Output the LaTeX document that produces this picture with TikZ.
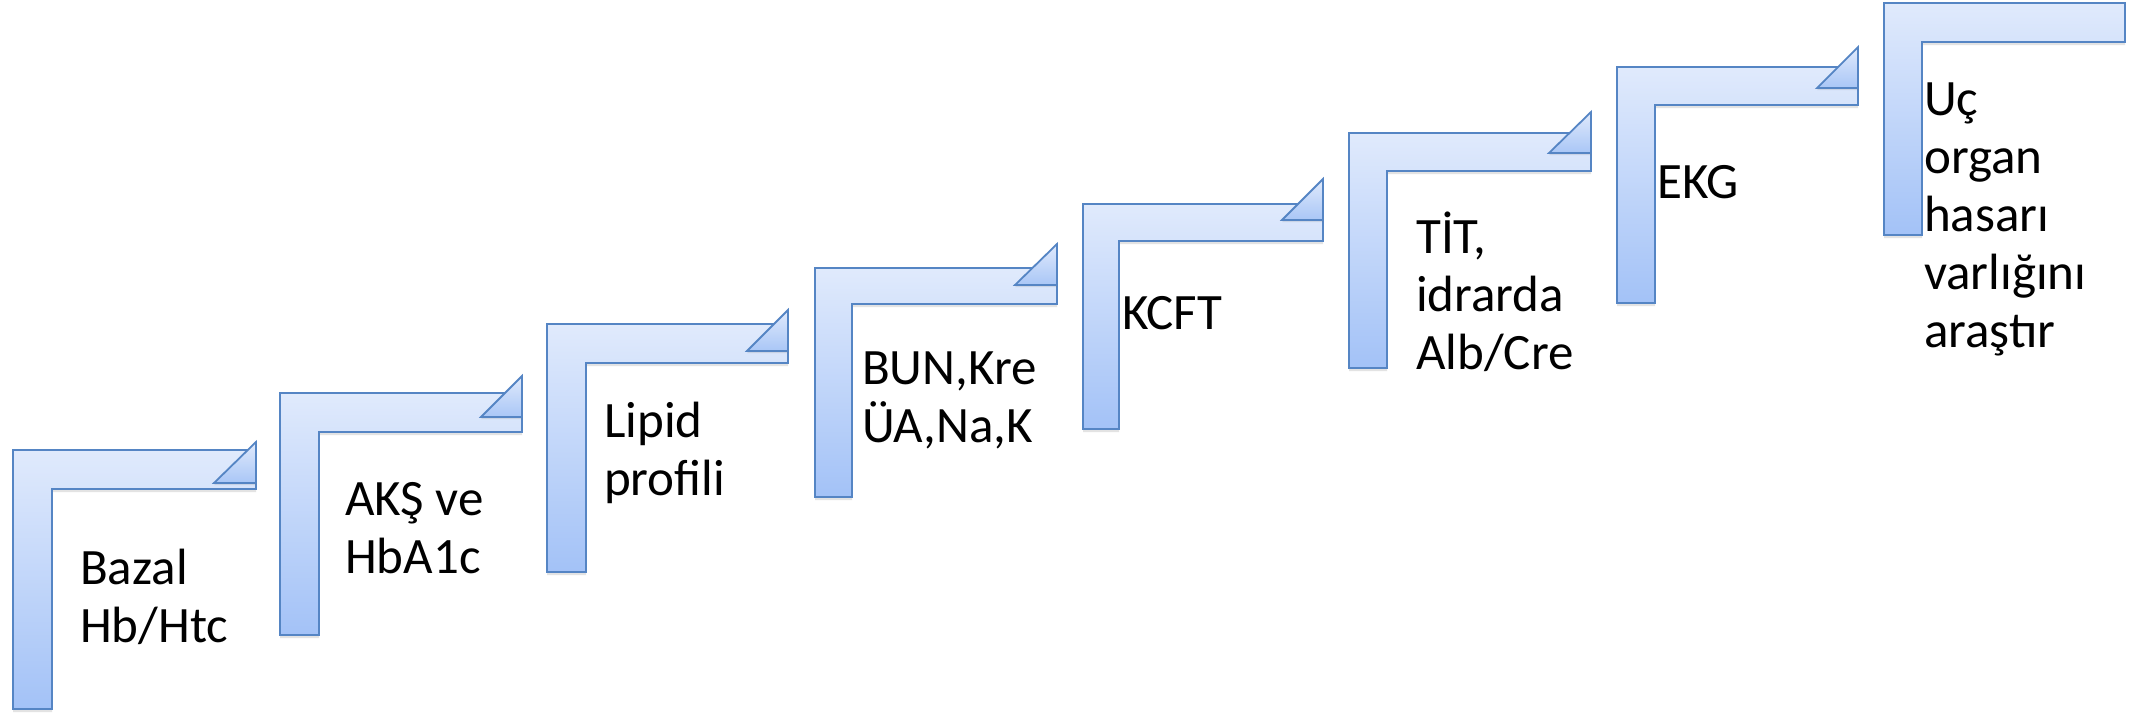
\documentclass[tikz,border=0pt]{standalone}
\usepackage{fontspec}
\setmainfont{Carlito}
\usetikzlibrary{shadows}
\definecolor{stroke}{HTML}{5585C4}
\definecolor{topc}{HTML}{E0EAFC}
\definecolor{botc}{HTML}{A3C2F7}
\definecolor{tribot}{HTML}{A9C6F6}
\tikzset{
  stair/.style={draw=stroke, line width=1.8pt, line join=miter, top color=topc, bottom color=botc,
    drop shadow={opacity=0.22, shadow xshift=0pt, shadow yshift=-3pt}},
  tri/.style={draw=stroke, line width=1.8pt, line join=miter, top color=topc, bottom color=tribot,
    drop shadow={opacity=0.18, shadow xshift=0pt, shadow yshift=-2pt}},
  lbl/.style={anchor=base west, inner sep=0pt, align=left, font=\fontsize{51}{58}\selectfont, text=black}
}
\begin{document}
\begin{tikzpicture}[x=1pt,y=-1pt]
\useasboundingbox[fill=white] (0,0) rectangle (2139,715);
% staircase steps: L/T/R/B/ix/iy
\foreach \L/\T/\R/\B/\ix/\iy [count=\i] in {
  13/450/256/709/52/489,
  280/393/522/635/319/432,
  547/324/788/572/586/363,
  815/268/1057/497/852/304,
  1083/204/1323/429/1119/241,
  1349/133/1591/368/1387/171,
  1617/67/1858/303/1655/105,
  1884/3/2125/235/1922/42}{
  \draw[stair] (\L,\B) coordinate (s\i) -- (\L,\T) -- (\R,\T) -- (\R,\iy) -- (\ix,\iy) -- (\ix,\B) -- cycle;
}
% arrow tips: left vertex x / base y / right x
\foreach \tx/\ty/\R [count=\i] in {
  214/483/256, 481/417/522, 747/351/788, 1015/285/1057,
  1282/220/1323, 1549/153/1591, 1817/88/1858}{
  \draw[tri] (\tx,\ty) coordinate (a\i) -- (\R,\ty) -- (\R,\ty-41) -- cycle;
}
% labels: anchored at the baseline of the last line
\node[lbl] (t1) at (80,642) {Bazal\\Hb/Htc};
\node[lbl] (t2) at (345,573) {AKŞ ve\\HbA1c};
\node[lbl] (t3) at (604,495) {Lipid\\profili};
\node[lbl] (t4) at (862,442) {BUN,Kre\\ÜA,Na,K};
\node[lbl] (t5) at (1122,329) {KCFT};
\node[lbl] (t6) at (1416,369) {TİT,\\idrarda\\Alb/Cre};
\node[lbl] (t7) at (1657,198) {EKG};
\node[lbl] (t8) at (1924,347) {Uç\\organ\\hasarı\\varlığını\\araştır};
\end{tikzpicture}
\end{document}
